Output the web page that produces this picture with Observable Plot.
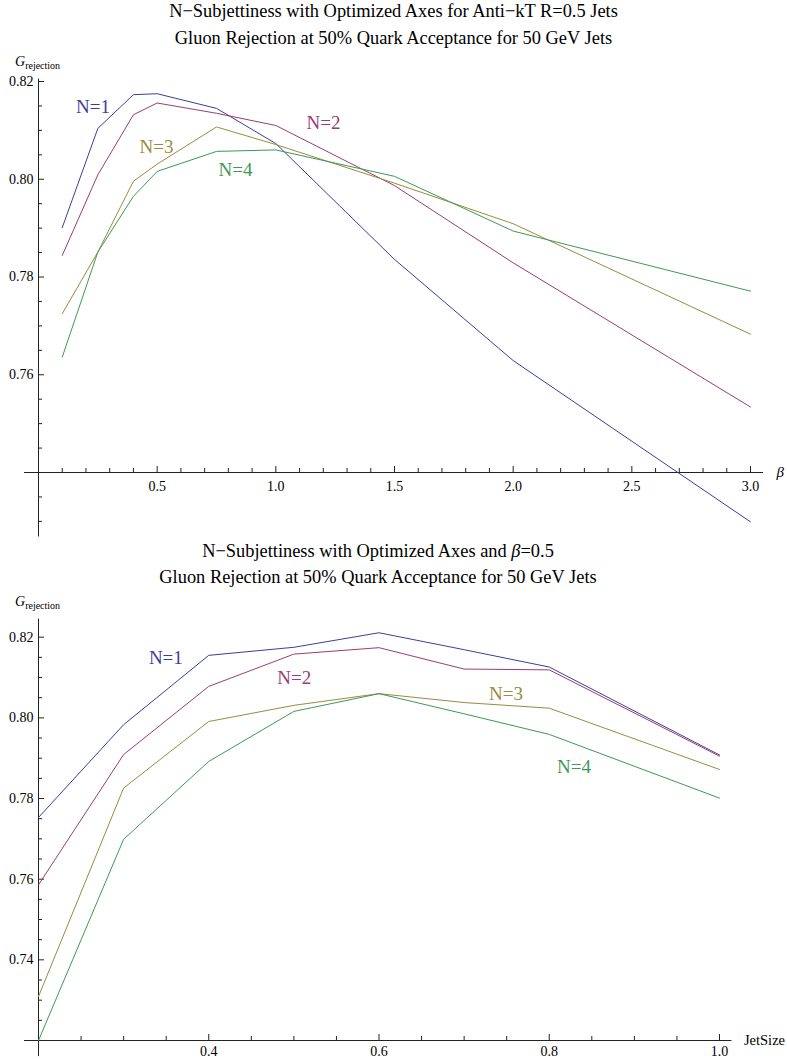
<!DOCTYPE html>
<html><head><meta charset="utf-8">
<script src="https://cdn.jsdelivr.net/npm/d3@7"></script>
<script src="https://cdn.jsdelivr.net/npm/@observablehq/plot@0.6"></script>
<style>
body{margin:0;background:#fff;font-family:"Liberation Serif","Times New Roman",serif;color:#000}
#root{position:relative;width:787px;height:1059px;overflow:hidden;background:#fff}
.t{position:absolute;font-size:18.4px;line-height:1;white-space:nowrap;transform:translateX(-50%)}
.g{position:absolute;white-space:nowrap;line-height:1}
.g i{font-size:14px}
.g span{font-size:10px;position:relative;top:3px}
.plot{position:absolute;left:0}
.plot text{font-family:"Liberation Serif","Times New Roman",serif}
</style></head><body><div id="root">
<div class="t" style="left:393.5px;top:2px">N−Subjettiness with Optimized Axes for Anti−kT R=0.5 Jets</div>
<div class="t" style="left:393.5px;top:29px">Gluon Rejection at 50% Quark Acceptance for 50 GeV Jets</div>
<div class="g" style="left:15px;top:53px"><i>G</i><span>rejection</span></div>
<div class="t" style="left:378px;top:542px">N−Subjettiness with Optimized Axes and <i>β</i>=0.5</div>
<div class="t" style="left:378px;top:568px">Gluon Rejection at 50% Quark Acceptance for 50 GeV Jets</div>
<div class="g" style="left:15px;top:593px"><i>G</i><span>rejection</span></div>
</div>
<script>
// ---- data: top chart (beta) ----
const seriesNames = ["N=1", "N=2", "N=3", "N=4"];
const betaValues = [0.1, 0.25, 0.4, 0.5, 0.75, 1.0, 1.5, 2.0, 3.0];
const betaN1 = [0.7901, 0.8104, 0.8173, 0.8175, 0.8145, 0.8073, 0.7836, 0.7629, 0.7299];
const betaN2 = [0.7844, 0.8009, 0.8132, 0.8156, 0.8135, 0.8110, 0.7987, 0.7829, 0.7534];
const betaN3 = [0.7725, 0.7851, 0.7996, 0.8031, 0.8107, 0.8071, 0.7992, 0.7909, 0.7683];
const betaN4 = [0.7636, 0.7851, 0.7965, 0.8016, 0.8057, 0.8060, 0.8006, 0.7894, 0.7771];
const betaMajorTicks = [0.5, 1.0, 1.5, 2.0, 2.5, 3.0];
const betaYTicks = [0.76, 0.78, 0.80, 0.82];
const betaLabels = [
  {text: "N=1", x: 0.230, y: 0.8147},
  {text: "N=2", x: 1.201, y: 0.8116},
  {text: "N=3", x: 0.497, y: 0.8067},
  {text: "N=4", x: 0.830, y: 0.8020}
];

// ---- data: bottom chart (jet size) ----
const jetSizes = [0.2, 0.3, 0.4, 0.5, 0.6, 0.7, 0.8, 1.0];
const jetN1 = [0.7753, 0.7983, 0.8155, 0.8175, 0.8211, 0.8169, 0.8126, 0.7908];
const jetN2 = [0.7586, 0.7909, 0.8078, 0.8158, 0.8174, 0.8121, 0.8119, 0.7905];
const jetN3 = [0.7309, 0.7826, 0.7991, 0.8031, 0.8060, 0.8038, 0.8024, 0.7872];
const jetN4 = [0.7200, 0.7699, 0.7892, 0.8016, 0.8060, 0.8010, 0.7959, 0.7801];
const jetMajorTicks = [0.4, 0.6, 0.8, 1.0];
const jetYTicks = [0.74, 0.76, 0.78, 0.80, 0.82];
const jetLabels = [
  {text: "N=1", x: 0.3496, y: 0.8148},
  {text: "N=2", x: 0.5005, y: 0.8098},
  {text: "N=3", x: 0.7493, y: 0.8060},
  {text: "N=4", x: 0.8290, y: 0.7878}
];

const colors = ["#3d3d99", "#993d71", "#998b3d", "#3d9955"];
const serif = "Liberation Serif";
const fmt2 = d3.format(".2f"), fmt1 = d3.format(".1f");
function toRows(xs, ys) {
  return ys.flatMap((vals, s) => xs.map((x, i) => ({x, y: vals[i], series: seriesNames[s]})));
}
const round = (v) => Math.round(v * 1000) / 1000;
function minor(a, b, step, majors) {
  return d3.range(Math.round((b - a) / step) + 1).map(i => round(a + i * step)).filter(v => !majors.some(m => Math.abs(m - v) < 1e-9));
}
const axisColor = "#222";
const style = {fontFamily: serif, fontSize: "14px", background: "transparent", overflow: "visible"};

function chart(o) {
  return Plot.plot({
    width: 787, height: o.height,
    marginLeft: o.xr[0], marginRight: 787 - o.xr[1], marginTop: o.yr[1], marginBottom: o.height - o.yr[0],
    x: {domain: o.xd, range: o.xr, axis: null},
    y: {domain: o.yd, range: o.yr, axis: null},
    color: {domain: seriesNames, range: colors},
    style,
    marks: [
      Plot.ruleY([o.yd[0]], {x1: o.xAxisExt[0], x2: o.xAxisExt[1], stroke: axisColor, strokeWidth: 1}),
      Plot.ruleX([o.xd[0]], {y1: o.yAxisExt[0], y2: o.yAxisExt[1], stroke: axisColor, strokeWidth: 1}),
      Plot.axisX(o.xMajor, {anchor: "bottom", tickSize: -6, fill: "none", stroke: axisColor, label: null}),
      Plot.axisX(o.xMinor, {anchor: "bottom", tickSize: -4, fill: "none", stroke: axisColor, label: null}),
      Plot.axisX(o.xMajor, {anchor: "bottom", tickSize: 0, tickPadding: o.xPad, tickFormat: fmt1, fill: "#000", label: null, fontFamily: serif, fontSize: 14}),
      Plot.axisY(o.yMajor, {anchor: "left", tickSize: -6, fill: "none", stroke: axisColor, label: null}),
      Plot.axisY(o.yMinor, {anchor: "left", tickSize: -4, fill: "none", stroke: axisColor, label: null}),
      Plot.axisY(o.yMajor, {anchor: "left", tickSize: 0, tickPadding: 5, tickFormat: fmt2, fill: "#000", label: null, fontFamily: serif, fontSize: 14}),
      Plot.line(o.rows, {x: "x", y: "y", z: "series", stroke: "series", strokeWidth: 1}),
      Plot.text(o.labels, {x: "x", y: "y", text: "text", fill: "text", fontSize: 19, fontFamily: serif, textAnchor: "middle", lineAnchor: "middle"}),
      Plot.text([o.axisLabel], {x: o.xAxisExt[1], y: o.yd[0], text: d => d, dx: o.labelDx, textAnchor: "start", lineAnchor: "middle", fontSize: o.labelSize, fontStyle: o.labelStyle, fontFamily: serif, fill: "#000"})
    ]
  });
}

const topPlot = chart({
  height: 495,
  xd: [0, 3], xr: [38, 750], yd: [0.74, 0.82], yr: [422, 31],
  xAxisExt: [-0.059, 3.055], yAxisExt: [0.7268, 0.8205],
  xMajor: betaMajorTicks, xMinor: minor(0.1, 3.0, 0.1, betaMajorTicks),
  yMajor: betaYTicks, yMinor: minor(0.73, 0.82, 0.005, betaYTicks.concat([0.74])),
  xPad: 9,
  rows: toRows(betaValues, [betaN1, betaN2, betaN3, betaN4]),
  labels: betaLabels,
  axisLabel: "β", labelDx: 13, labelSize: 15, labelStyle: "italic"
});
topPlot.classList.add("plot");
topPlot.style.top = "50px";

const botPlot = chart({
  height: 469,
  xd: [0.2, 1.0], xr: [38, 719], yd: [0.72, 0.82], yr: [450, 46.7],
  xAxisExt: [0.1836, 1.0146], yAxisExt: [0.716, 0.8245],
  xMajor: jetMajorTicks, xMinor: minor(0.25, 1.0, 0.05, jetMajorTicks),
  yMajor: jetYTicks, yMinor: minor(0.725, 0.82, 0.005, jetYTicks),
  xPad: 6,
  rows: toRows(jetSizes, [jetN1, jetN2, jetN3, jetN4]),
  labels: jetLabels,
  axisLabel: "JetSize", labelDx: 12, labelSize: 14.5, labelStyle: "normal"
});
botPlot.classList.add("plot");
botPlot.style.top = "590px";

const root = document.getElementById("root");
root.insertBefore(botPlot, root.firstChild);
root.insertBefore(topPlot, root.firstChild);
</script>
</body></html>
